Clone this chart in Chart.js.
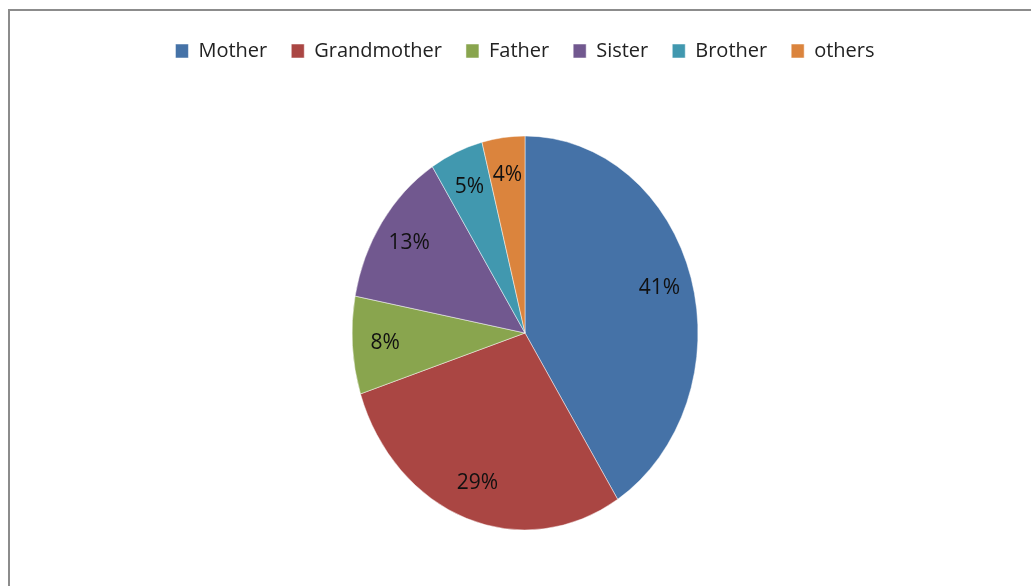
<!DOCTYPE html>
<html>
<head>
<meta charset="utf-8">
<script src="https://cdn.jsdelivr.net/npm/chart.js@4/dist/chart.umd.min.js"></script>
<style>
  html, body { margin: 0; padding: 0; background: #fff; overflow: hidden; }
  #frame { position: absolute; left: 8px; top: 9px; width: 1100px; height: 700px;
           border-top: 2px solid #8c8c8c; border-left: 2px solid #8c8c8c; }
  #wrap { position: absolute; left: 0; top: 0; width: 1031px; height: 595px; }
</style>
</head>
<body>
<div id="frame"></div>
<div id="wrap"><canvas id="pie-chart" width="1031" height="595"></canvas></div>
<script>
// data
const labels = ["Mother", "Grandmother", "Father", "Sister", "Brother", "others"];
const shares = [41, 29, 8, 13, 5, 4];
const colors = ['#4572A7', '#AA4643', '#89A54E', '#71588F', '#4198AF', '#DB843D'];

// the original pie is a bit narrower than tall
const squash = 0.878;
const labelRadius = 0.81;

const ovalPie = {
  id: 'ovalPie',
  beforeDatasetsDraw(chart) {
    const arc = chart.getDatasetMeta(0).data[0];
    const ctx = chart.ctx;
    ctx.save();
    ctx.translate(arc.x, 0);
    ctx.scale(squash, 1);
    ctx.translate(-arc.x, 0);
  },
  afterDatasetsDraw(chart) {
    const ctx = chart.ctx;
    ctx.restore();
    // percent labels
    ctx.save();
    ctx.font = '21px "Open Sans"';
    ctx.fillStyle = '#111';
    ctx.textAlign = 'center';
    ctx.textBaseline = 'middle';
    chart.getDatasetMeta(0).data.forEach((arc, i) => {
      const mid = (arc.startAngle + arc.endAngle) / 2;
      const r = arc.outerRadius * labelRadius;
      const x = arc.x + Math.cos(mid) * r * squash;
      const y = arc.y + Math.sin(mid) * r;
      ctx.fillText(shares[i] + '%', x, y);
    });
    ctx.restore();
  }
};

const pieCanvas = document.getElementById('pie-chart');
let pieChart = new Chart(pieCanvas, {
  type: 'pie',
  data: {
    labels: labels,
    datasets: [{
      data: shares,
      backgroundColor: colors,
      borderColor: 'rgba(255,255,255,0.5)',
      borderWidth: 1
    }]
  },
  options: {
    responsive: false,
    animation: false,
    radius: 197,
    layout: { padding: { top: 17, left: 19, right: 0, bottom: 0 } },
    plugins: {
      legend: {
        position: 'top',
        labels: {
          boxWidth: 13,
          boxHeight: 14,
          padding: 24,
          color: '#222',
          font: { family: '"Open Sans"', size: 20 }
        }
      },
      tooltip: { enabled: false }
    }
  },
  plugins: [ovalPie]
});
</script>
</body>
</html>
